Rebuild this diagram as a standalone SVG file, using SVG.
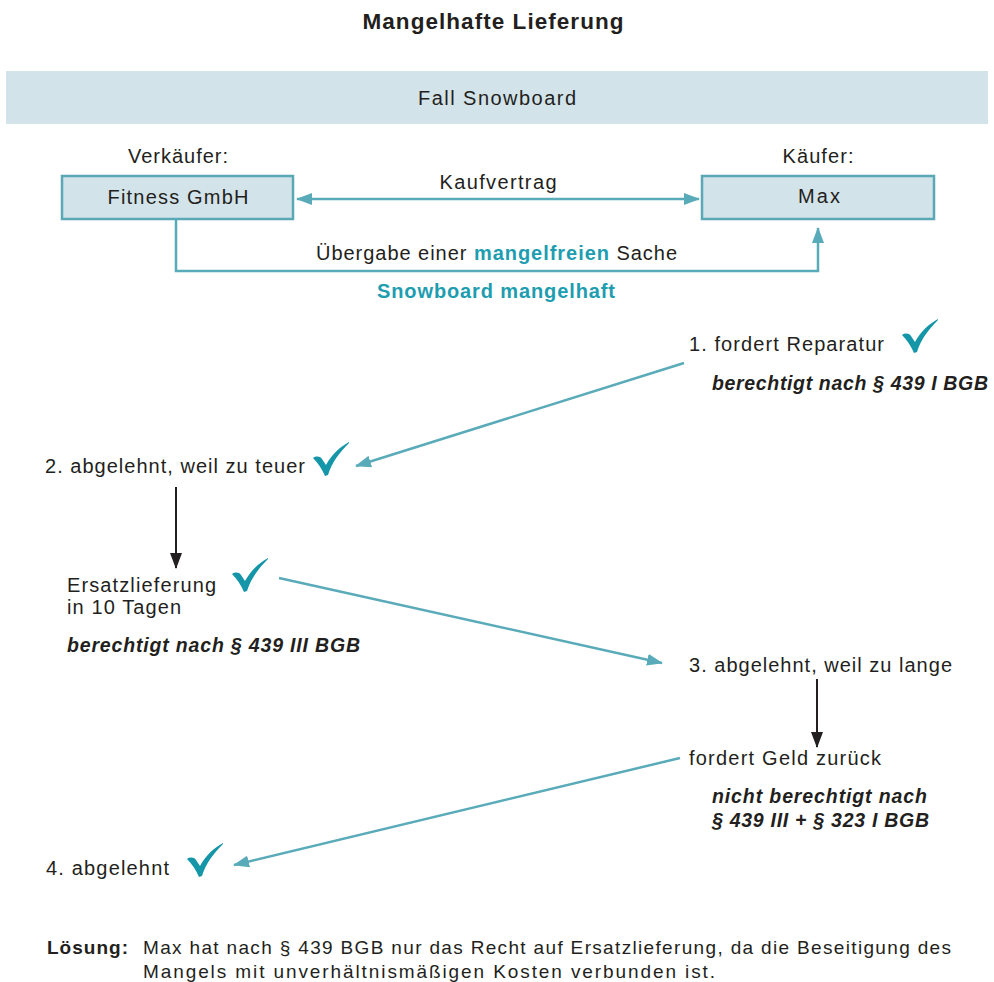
<svg xmlns="http://www.w3.org/2000/svg" width="994" height="982" viewBox="0 0 994 982">
<style>
text{font-family:"Liberation Sans",Arial,sans-serif;font-size:20px;fill:#231f20}
.b{font-weight:bold}
.bi{font-weight:bold;font-style:italic;font-size:19.5px}
.t{fill:#1e9db0;font-weight:bold}
.c{text-anchor:middle}
.s{font-size:19px}
.box{fill:#d3e3ea;stroke:#5aa8b6;stroke-width:2.5}
.tl{stroke:#5aabb9;stroke-width:2.5;fill:none}
.bl{stroke:#231f20;stroke-width:2;fill:none}
.chk{fill:#1596a8}
</style>
<defs>
<marker id="ta" viewBox="0 0 16 12" refX="15" refY="6" markerWidth="16" markerHeight="12" markerUnits="userSpaceOnUse" orient="auto-start-reverse"><path d="M0,0 L16,6 L0,12 Z" fill="#5aabb9"/></marker>
<marker id="ba" viewBox="0 0 16 12" refX="15" refY="6" markerWidth="16" markerHeight="12" markerUnits="userSpaceOnUse" orient="auto"><path d="M0,0 L16,6 L0,12 Z" fill="#231f20"/></marker>
<path id="check" d="M0,16 C3,14 7,14 9,17 L13,23 C19,12 27,5 36,0 L36,1 C27,10 19,20 15,33 L12,34 C9,27 5,21 0,16 Z"/>
</defs>

<text class="b c" x="493" y="29" textLength="261" style="font-size:22.5px">Mangelhafte Lieferung</text>

<g id="banner">
<rect x="6" y="71" width="982" height="53" fill="#d3e3ea"/>
<text class="c" x="497" y="105" textLength="158">Fall Snowboard</text>
</g>

<g id="verkaeufer">
<text class="c" x="178" y="163" textLength="100">Verkäufer:</text>
<rect class="box" x="62" y="176" width="231" height="43"/>
<text class="c" x="178" y="204" textLength="141">Fitness GmbH</text>
</g>

<g id="kaeufer">
<text class="c" x="818" y="163" textLength="71">Käufer:</text>
<rect class="box" x="702" y="176" width="232" height="43"/>
<text class="c" x="819" y="203" textLength="42">Max</text>
</g>

<g id="connectors">
<line class="tl" x1="297" y1="199" x2="699" y2="199" marker-start="url(#ta)" marker-end="url(#ta)"/>
<polyline class="tl" points="176,219 176,271 818,271 818,228" marker-end="url(#ta)"/>
<line class="tl" x1="684" y1="363" x2="356" y2="466" marker-end="url(#ta)"/>
<line class="tl" x1="279" y1="578" x2="662" y2="663" marker-end="url(#ta)"/>
<line class="tl" x1="680" y1="758" x2="234" y2="865" marker-end="url(#ta)"/>
<line class="bl" x1="176" y1="487" x2="176" y2="568" marker-end="url(#ba)"/>
<line class="bl" x1="817" y1="679" x2="817" y2="747" marker-end="url(#ba)"/>
</g>

<g id="labels">
<text class="c" x="498" y="189" textLength="117">Kaufvertrag</text>
<text x="316" y="260" textLength="361">Übergabe einer <tspan class="t">mangelfreien</tspan> Sache</text>
<text class="t c" x="496" y="298" textLength="238">Snowboard mangelhaft</text>
</g>

<g id="step1">
<text x="689" y="351" textLength="195">1. fordert Reparatur</text>
<use href="#check" class="chk" x="902" y="319"/>
<text class="bi" x="712" y="390" textLength="276">berechtigt nach § 439 I BGB</text>
</g>

<g id="step2">
<text x="45" y="473" textLength="260">2. abgelehnt, weil zu teuer</text>
<use href="#check" class="chk" x="313" y="442"/>
</g>

<g id="ersatz">
<text x="67" y="592" textLength="149">Ersatzlieferung</text>
<text x="67" y="614" textLength="114">in 10 Tagen</text>
<use href="#check" class="chk" x="232" y="558"/>
<text class="bi" x="67" y="652" textLength="293">berechtigt nach § 439 III BGB</text>
</g>

<g id="step3">
<text x="689" y="672" textLength="263">3. abgelehnt, weil zu lange</text>
</g>

<g id="geld">
<text x="689" y="765" textLength="192">fordert Geld zurück</text>
<text class="bi" x="712" y="803" textLength="215">nicht berechtigt nach</text>
<text class="bi" x="712" y="827" textLength="217">§ 439 III + § 323 I BGB</text>
</g>

<g id="step4">
<text x="46" y="875" textLength="123">4. abgelehnt</text>
<use href="#check" class="chk" x="187" y="843"/>
</g>

<g id="loesung">
<text class="b s" x="47" y="954" textLength="81">Lösung:</text>
<text class="s" x="143" y="954" textLength="808">Max hat nach § 439 BGB nur das Recht auf Ersatzlieferung, da die Beseitigung des</text>
<text class="s" x="143" y="978" textLength="572">Mangels mit unverhältnismäßigen Kosten verbunden ist.</text>
</g>
</svg>
